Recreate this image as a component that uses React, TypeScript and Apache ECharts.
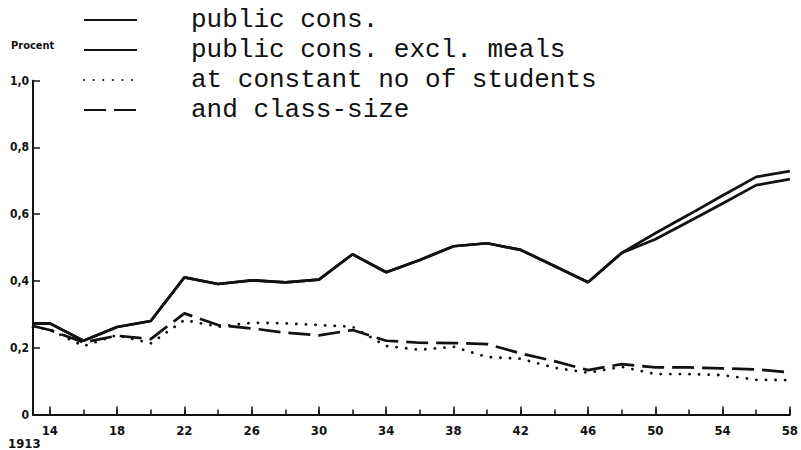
import React, { useEffect, useRef } from "react";
import * as echarts from "echarts";

const years = [1913, 1914, 1916, 1918, 1920, 1922, 1924, 1926, 1928, 1930, 1932, 1934, 1936, 1938, 1940, 1942, 1944, 1946, 1948, 1950, 1952, 1954, 1956, 1958];
const publicCons = [0.272, 0.273, 0.221, 0.262, 0.28, 0.411, 0.391, 0.402, 0.396, 0.404, 0.48, 0.426, 0.463, 0.504, 0.513, 0.493, 0.445, 0.396, 0.484, 0.543, 0.599, 0.656, 0.712, 0.729];
const exclMeals = [0.272, 0.273, 0.221, 0.262, 0.28, 0.411, 0.391, 0.402, 0.396, 0.404, 0.48, 0.426, 0.463, 0.504, 0.513, 0.493, 0.445, 0.396, 0.484, 0.525, 0.578, 0.632, 0.687, 0.705];
const constStudents = [0.262, 0.255, 0.205, 0.238, 0.213, 0.283, 0.263, 0.275, 0.273, 0.268, 0.263, 0.205, 0.194, 0.203, 0.172, 0.167, 0.14, 0.125, 0.143, 0.121, 0.121, 0.118, 0.104, 0.103];
const classSize = [0.265, 0.253, 0.216, 0.236, 0.226, 0.303, 0.268, 0.258, 0.245, 0.237, 0.253, 0.221, 0.215, 0.214, 0.211, 0.183, 0.16, 0.133, 0.151, 0.141, 0.141, 0.138, 0.135, 0.126];
const seriesNames = ["public cons.", "public cons. excl. meals", "at constant no of students", "and class-size"];
const yAxisTitle = "Procent";
const firstYearLabel = "1913";

const axisYears: string[] = [];
for (let y = 1913; y <= 1958; y++) axisYears.push(String(y));

const INK = "#111";
const LABEL_FONT = "'DejaVu Sans Condensed', 'Liberation Sans Narrow', 'DejaVu Sans', sans-serif";

function pairs(vals: number[]) {
  return years.map((y, i) => [String(y), vals[i]]);
}

export default function App() {
  const ref = useRef<HTMLDivElement>(null);
  useEffect(() => {
    if (!ref.current) return;
    const chart = echarts.init(ref.current, null, { renderer: "svg" });
    const isEven = (_i: number, v: string) => Number(v) % 2 === 0;
    const isLabeled = (_i: number, v: string) => (Number(v) - 1914) % 4 === 0;
    const lineBase = { type: "line" as const, symbol: "none", xAxisIndex: 0, yAxisIndex: 0 };
    chart.setOption({
      animation: false,
      backgroundColor: "#fff",
      grid: { left: 33, right: 8, top: 80.7, bottom: 35.5, containLabel: false },
      legend: {
        orient: "vertical",
        left: 83,
        top: 5,
        padding: 0,
        itemWidth: 53,
        itemHeight: 14,
        itemGap: 0,
        selectedMode: false,
        data: seriesNames,
        itemStyle: { color: "rgba(0,0,0,0)", borderWidth: 0, opacity: 0 },
        textStyle: {
          fontFamily: "'Liberation Mono', 'DejaVu Sans Mono', monospace",
          fontSize: 26,
          lineHeight: 30,
          color: INK,
          padding: [0, 0, 0, 49],
        },
      },
      xAxis: [
        {
          type: "category",
          data: axisYears,
          boundaryGap: false,
          position: "bottom",
          axisLine: { show: true, lineStyle: { color: INK, width: 2 } },
          axisTick: { show: true, inside: true, length: 5, interval: isEven, lineStyle: { color: INK, width: 1.5 } },
          axisLabel: {
            show: true,
            interval: isLabeled,
            formatter: (v: string) => v.slice(2),
            margin: 9,
            fontFamily: LABEL_FONT,
            fontWeight: "bold",
            fontSize: 13,
            color: INK,
          },
          splitLine: { show: false },
        },
        {
          type: "category",
          data: axisYears,
          boundaryGap: false,
          position: "bottom",
          offset: 0,
          axisLine: { show: false },
          axisTick: { show: true, inside: true, length: 8, interval: isLabeled, lineStyle: { color: INK, width: 1.5 } },
          axisLabel: { show: false },
          splitLine: { show: false },
        },
      ],
      yAxis: {
        type: "value",
        min: 0,
        max: 1,
        interval: 0.2,
        axisLine: { show: true, lineStyle: { color: INK, width: 2 } },
        axisTick: { show: true, inside: true, length: 7, lineStyle: { color: INK, width: 1.5 } },
        axisLabel: {
          margin: 4,
          formatter: (v: number) => (v === 0 ? "0" : v.toFixed(1).replace(".", ",")),
          fontFamily: LABEL_FONT,
          fontWeight: "bold",
          fontSize: 12,
          color: INK,
        },
        splitLine: { show: false },
      },
      graphic: [
        {
          type: "text",
          left: 11,
          top: 40,
          style: { text: yAxisTitle, fontFamily: LABEL_FONT, fontWeight: "bold", fontSize: 11, fill: INK },
        },
        {
          type: "text",
          left: 8,
          top: 437,
          style: { text: firstYearLabel, fontFamily: LABEL_FONT, fontWeight: "bold", fontSize: 13, fill: INK },
        },
      ],
      series: [
        { ...lineBase, name: seriesNames[0], data: pairs(publicCons), lineStyle: { color: INK, width: 2.7 }, itemStyle: { color: INK } },
        { ...lineBase, name: seriesNames[1], data: pairs(exclMeals), lineStyle: { color: INK, width: 2.7 }, itemStyle: { color: INK } },
        {
          ...lineBase,
          name: seriesNames[2],
          data: pairs(constStudents),
          lineStyle: { color: INK, width: 2.8, type: [0.1, 9.5], cap: "round" },
          itemStyle: { color: INK },
        },
        {
          ...lineBase,
          name: seriesNames[3],
          data: pairs(classSize),
          lineStyle: { color: INK, width: 2.7, type: [22, 8] },
          itemStyle: { color: INK },
        },
      ],
    });
    return () => chart.dispose();
  }, []);
  return <div ref={ref} style={{ position: "fixed", left: 0, top: 0, width: 801, height: 450 }} />;
}
